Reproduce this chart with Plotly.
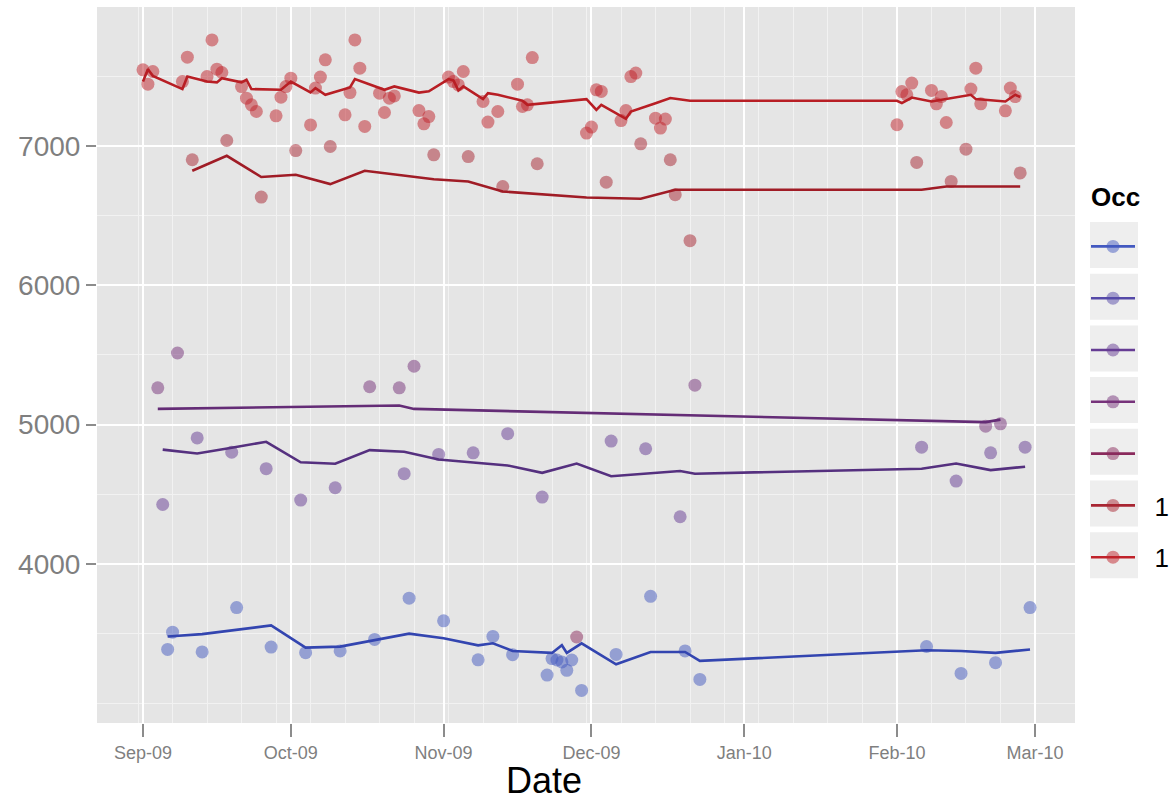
import plotly.graph_objects as go
import pandas as pd

# ---------------- data ----------------
LEGEND_TITLE = "Occ"
LEGEND_LABELS = ["", "", "", "", "", "\u00a0\u00a01", "\u00a0\u00a01"]
COLORS = ["#4359c0", "#5549a8", "#663c94", "#76327a", "#8a2a5c", "#a82532", "#c0222a"]
LINE_COLORS = ["#3345b0", "#4f3a9a", "#55307f", "#642c76", "#7e2450", "#a01c26", "#b81e24"]

# series 1 (blue)
s1_pt_dates = ["2009-09-06", "2009-09-07", "2009-09-13", "2009-09-20", "2009-09-27", "2009-10-04",
               "2009-10-11", "2009-10-18", "2009-10-25", "2009-11-01", "2009-11-08", "2009-11-11",
               "2009-11-15", "2009-11-22", "2009-11-23", "2009-11-24", "2009-11-25", "2009-11-26",
               "2009-11-27", "2009-11-29", "2009-12-06", "2009-12-13", "2009-12-20", "2009-12-23",
               "2010-02-07", "2010-02-14", "2010-02-21", "2010-02-28"]
s1_pt_vals = [3386, 3510, 3368, 3686, 3403, 3363, 3375, 3458, 3754, 3591, 3311, 3479,
              3348, 3202, 3320, 3310, 3296, 3236, 3310, 3092, 3350, 3767, 3375, 3171,
              3407, 3214, 3291, 3686]
s1_ln_dates = ["2009-09-06", "2009-09-13", "2009-09-27", "2009-10-04", "2009-10-11", "2009-10-25",
               "2009-11-01", "2009-11-08", "2009-11-11", "2009-11-15", "2009-11-23", "2009-11-25",
               "2009-11-26", "2009-11-29", "2009-12-06", "2009-12-13", "2009-12-20", "2009-12-23",
               "2010-02-07", "2010-02-14", "2010-02-21", "2010-02-28"]
s1_ln_vals = [3479, 3496, 3558, 3399, 3406, 3499, 3466, 3415, 3430, 3375, 3361, 3416,
              3361, 3430, 3279, 3368, 3368, 3304, 3380, 3375, 3361, 3386]

# series 2 (no visible marks)
s2_pt_dates, s2_pt_vals, s2_ln_dates, s2_ln_vals = [], [], [], []

# series 3 (purple, lower line)
s3_pt_dates = ["2009-09-05", "2009-09-12", "2009-09-19", "2009-09-26", "2009-10-03", "2009-10-10",
               "2009-10-24", "2009-10-31", "2009-11-07", "2009-11-14", "2009-11-21", "2009-12-05",
               "2009-12-12", "2009-12-19", "2010-02-06", "2010-02-13", "2010-02-20", "2010-02-27"]
s3_pt_vals = [4426, 4904, 4801, 4683, 4458, 4546, 4647, 4785, 4797, 4934, 4479, 4881,
              4826, 4338, 4837, 4594, 4797, 4837]
s3_ln_dates = ["2009-09-05", "2009-09-12", "2009-09-19", "2009-09-26", "2009-10-03", "2009-10-10",
               "2009-10-17", "2009-10-24", "2009-10-31", "2009-11-07", "2009-11-14", "2009-11-21",
               "2009-11-28", "2009-12-05", "2009-12-19", "2009-12-22", "2010-02-06", "2010-02-13",
               "2010-02-20", "2010-02-27"]
s3_ln_vals = [4820, 4792, 4833, 4876, 4729, 4718, 4816, 4804, 4749, 4725, 4706, 4653,
              4720, 4629, 4666, 4647, 4683, 4720, 4673, 4697]

# series 4 (purple, upper line)
s4_pt_dates = ["2009-09-04", "2009-09-08", "2009-10-17", "2009-10-23", "2009-10-26", "2009-12-22",
               "2010-02-19", "2010-02-22"]
s4_pt_vals = [5263, 5513, 5271, 5263, 5418, 5282, 4988, 5005]
s4_ln_dates = ["2009-09-04", "2009-10-23", "2009-10-26", "2010-02-19", "2010-02-22"]
s4_ln_vals = [5112, 5136, 5112, 5017, 5035]

# series 5 (plum)
s5_pt_dates = ["2009-11-28"]
s5_pt_vals = [3475]
s5_ln_dates, s5_ln_vals = [], []

# series 6 (red, lower line)
s6_pt_dates = ["2009-09-11", "2009-09-18", "2009-09-25", "2009-10-02", "2009-10-09", "2009-10-30",
               "2009-11-06", "2009-11-13", "2009-11-20", "2009-12-04", "2009-12-11", "2009-12-17",
               "2009-12-18", "2009-12-21", "2010-02-05", "2010-02-12", "2010-02-15", "2010-02-26"]
s6_pt_vals = [6900, 7038, 6632, 6966, 6995, 6935, 6923, 6708, 6871, 6739, 7014, 6900,
              6649, 6319, 6881, 6744, 6976, 6805]
s6_ln_dates = ["2009-09-11", "2009-09-18", "2009-09-25", "2009-10-02", "2009-10-09", "2009-10-16",
               "2009-10-30", "2009-11-06", "2009-11-13", "2009-11-30", "2009-12-11", "2009-12-18",
               "2010-02-06", "2010-02-11", "2010-02-26"]
s6_ln_vals = [6821, 6928, 6776, 6792, 6725, 6821, 6760, 6744, 6672, 6629, 6620, 6685,
              6685, 6708, 6708]

# series 7 (red, upper line)
s7_pt_dates = ["2009-09-01", "2009-09-02", "2009-09-03", "2009-09-09", "2009-09-10", "2009-09-14",
               "2009-09-15", "2009-09-16", "2009-09-17", "2009-09-21", "2009-09-22", "2009-09-23",
               "2009-09-24", "2009-09-28", "2009-09-29", "2009-09-30", "2009-10-01", "2009-10-05",
               "2009-10-06", "2009-10-07", "2009-10-08", "2009-10-12", "2009-10-13", "2009-10-14",
               "2009-10-15", "2009-10-16", "2009-10-19", "2009-10-20", "2009-10-21", "2009-10-22",
               "2009-10-27", "2009-10-28", "2009-10-29", "2009-11-02", "2009-11-03", "2009-11-04",
               "2009-11-05", "2009-11-09", "2009-11-10", "2009-11-12", "2009-11-16", "2009-11-17",
               "2009-11-18", "2009-11-19", "2009-11-30", "2009-12-01", "2009-12-02", "2009-12-03",
               "2009-12-07", "2009-12-08", "2009-12-09", "2009-12-10", "2009-12-14", "2009-12-15",
               "2009-12-16", "2010-02-01", "2010-02-02", "2010-02-03", "2010-02-04", "2010-02-08",
               "2010-02-09", "2010-02-10", "2010-02-11", "2010-02-16", "2010-02-17", "2010-02-18",
               "2010-02-23", "2010-02-24", "2010-02-25"]
s7_pt_vals = [7545, 7442, 7533, 7461, 7636, 7497, 7760, 7550, 7526, 7425, 7342, 7294,
              7246, 7215, 7349, 7425, 7485, 7150, 7414, 7493, 7617, 7222, 7382, 7760,
              7557, 7139, 7377, 7239, 7342, 7358, 7253, 7158, 7210, 7493, 7461, 7437,
              7533, 7318, 7170, 7246, 7442, 7282, 7294, 7633, 7091, 7134, 7402, 7390,
              7181, 7253, 7497, 7522, 7198, 7127, 7192, 7151, 7389, 7366, 7450, 7397,
              7301, 7353, 7167, 7407, 7557, 7301, 7251, 7414, 7353]
s7_ln_dates = ["2009-09-01", "2009-09-02", "2009-09-03", "2009-09-09", "2009-09-10", "2009-09-14",
               "2009-09-16", "2009-09-17", "2009-09-21", "2009-09-22", "2009-09-23", "2009-09-29",
               "2009-10-01", "2009-10-05", "2009-10-06", "2009-10-08", "2009-10-13", "2009-10-14",
               "2009-10-20", "2009-10-22", "2009-10-27", "2009-10-29", "2009-11-02", "2009-11-03",
               "2009-11-04", "2009-11-05", "2009-11-09", "2009-11-10", "2009-11-12", "2009-11-17",
               "2009-11-18", "2009-11-30", "2009-12-02", "2009-12-03", "2009-12-08", "2009-12-09",
               "2009-12-14", "2009-12-17", "2009-12-21", "2010-02-01", "2010-02-02", "2010-02-04",
               "2010-02-08", "2010-02-16", "2010-02-17", "2010-02-23", "2010-02-25", "2010-02-26"]
s7_ln_vals = [7461, 7550, 7502, 7407, 7497, 7461, 7455, 7485, 7455, 7474, 7407, 7402,
              7461, 7383, 7414, 7366, 7419, 7479, 7402, 7426, 7382, 7391, 7479, 7469,
              7397, 7426, 7335, 7378, 7366, 7323, 7294, 7335, 7258, 7294, 7194, 7246,
              7306, 7343, 7323, 7323, 7306, 7346, 7318, 7366, 7335, 7318, 7366, 7350]

Y_TICKS = [4000, 5000, 6000, 7000]
Y_MINOR = [3000, 3500, 4500, 5500, 6500, 7500]

series = [
    (s1_pt_dates, s1_pt_vals, s1_ln_dates, s1_ln_vals),
    (s2_pt_dates, s2_pt_vals, s2_ln_dates, s2_ln_vals),
    (s3_pt_dates, s3_pt_vals, s3_ln_dates, s3_ln_vals),
    (s4_pt_dates, s4_pt_vals, s4_ln_dates, s4_ln_vals),
    (s5_pt_dates, s5_pt_vals, s5_ln_dates, s5_ln_vals),
    (s6_pt_dates, s6_pt_vals, s6_ln_dates, s6_ln_vals),
    (s7_pt_dates, s7_pt_vals, s7_ln_dates, s7_ln_vals),
]

# ---------------- figure ----------------
FONT = "Liberation Sans, Arial, sans-serif"
W, H = 1169, 800
ML, MR, MT, MB = 97, 94, 7, 77
PW, PH = W - ML - MR, H - MT - MB


def px_x(px):
    return (px - ML) / PW


def px_y(py):
    return (H - MB - py) / PH


fig = go.Figure()

for i, (pd_, pv, ld, lv) in enumerate(series):
    if pd_:
        fig.add_trace(go.Scatter(x=pd_, y=pv, mode="markers", showlegend=False,
                                 marker=dict(size=13, color=COLORS[i], opacity=0.5, line=dict(width=0))))
for i, (pd_, pv, ld, lv) in enumerate(series):
    if ld:
        fig.add_trace(go.Scatter(x=ld, y=lv, mode="lines", showlegend=False,
                                 line=dict(color=LINE_COLORS[i], width=2.6)))

# legend entries
for i, name in enumerate(LEGEND_LABELS):
    fig.add_trace(go.Scatter(x=[None], y=[None], mode="lines+markers", name=name,
                             legendgroup=f"g{i}",
                             line=dict(color=COLORS[i], width=2.6),
                             marker=dict(size=13, color=COLORS[i], opacity=0.5)))

# light key boxes behind the legend symbols (ggplot style)
shapes = []
for i in range(len(LEGEND_LABELS)):
    c = 245 + 51.7 * i
    shapes.append(dict(type="rect", xref="paper", yref="paper", layer="below",
                       x0=px_x(1090), x1=px_x(1138), y0=px_y(c + 23), y1=px_y(c - 23),
                       fillcolor="#eeeeee", line=dict(width=0)))

month_starts = pd.date_range("2009-09-01", "2010-03-01", freq="MS")
mondays = [d for d in pd.date_range("2009-08-31", "2010-02-22", freq="7D") if d.day != 1]

fig.update_layout(
    width=W, height=H,
    margin=dict(l=ML, r=MR, t=MT, b=MB, autoexpand=False),
    paper_bgcolor="white", plot_bgcolor="#e5e5e5",
    font=dict(family=FONT),
    xaxis=dict(type="date", range=["2009-08-22 16:00", "2010-03-09 03:00"],
               tickmode="array", tickvals=month_starts, tickformat="%b-%y",
               ticks="outside", ticklen=13, tickwidth=2, tickcolor="#8c8c8c",
               tickfont=dict(size=18, color="#7f7f7f", family=FONT),
               showgrid=True, gridcolor="white", gridwidth=2.2,
               zeroline=False, showline=False,
               minor=dict(tickmode="array", tickvals=mondays, showgrid=True,
                          gridcolor="#f2f2f2", gridwidth=1, ticks="")),
    yaxis=dict(range=[2858, 7996], tickmode="array", tickvals=Y_TICKS,
               ticks="outside", ticklen=10, tickwidth=2, tickcolor="#8c8c8c",
               tickfont=dict(size=28, color="#7f7f7f", family=FONT),
               showgrid=True, gridcolor="white", gridwidth=2.2,
               zeroline=False, showline=False,
               minor=dict(tickmode="array", tickvals=Y_MINOR, showgrid=True,
                          gridcolor="#f2f2f2", gridwidth=1, ticks="")),
    legend=dict(x=px_x(1086), xanchor="left", y=px_y(223), yanchor="top",
                font=dict(size=26, color="black", family=FONT),
                traceorder="grouped", tracegroupgap=15, itemwidth=44,
                bgcolor="rgba(0,0,0,0)"),
    shapes=shapes,
    annotations=[
        dict(text="Date", xref="paper", yref="paper", x=px_x(544), y=px_y(780),
             xanchor="center", yanchor="middle", showarrow=False,
             font=dict(size=36, color="black", family=FONT)),
        dict(text=LEGEND_TITLE, xref="paper", yref="paper", x=px_x(1089), y=px_y(197),
             xanchor="left", yanchor="middle", showarrow=False,
             font=dict(size=26, color="black", family=FONT, weight="bold")),
    ],
)

fig.write_html("out.html", config={"displayModeBar": False},
               post_script="document.body.style.margin='0';")
